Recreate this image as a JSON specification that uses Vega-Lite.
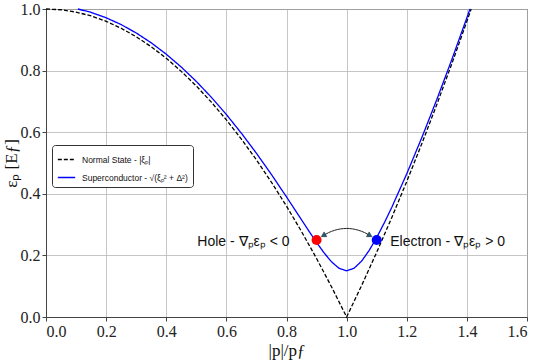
{
  "$schema": "https://vega.github.io/schema/vega-lite/v6.json",
  "width": 481,
  "height": 308,
  "autosize": "none",
  "padding": {"left": 46, "top": 9, "right": 13, "bottom": 43},
  "background": "white",
  "config": {
    "view": {"stroke": "#444", "strokeWidth": 1},
    "axis": {
      "labelFont": "Liberation Serif",
      "labelFontSize": 16,
      "labelColor": "#222",
      "titleFont": "Liberation Serif",
      "titleFontSize": 17,
      "titleFontWeight": "normal",
      "titleColor": "#111",
      "gridColor": "#b8b8b8",
      "gridWidth": 0.8,
      "domainColor": "#444",
      "tickColor": "#444"
    }
  },
  "datasets": {
    "curves": [
      {"x": 0.0, "y": 1.0, "s": "Normal State - |ξₚ|"},
      {"x": 0.05, "y": 0.9975, "s": "Normal State - |ξₚ|"},
      {"x": 0.1, "y": 0.99, "s": "Normal State - |ξₚ|"},
      {"x": 0.15, "y": 0.9775, "s": "Normal State - |ξₚ|"},
      {"x": 0.2, "y": 0.96, "s": "Normal State - |ξₚ|"},
      {"x": 0.25, "y": 0.9375, "s": "Normal State - |ξₚ|"},
      {"x": 0.3, "y": 0.91, "s": "Normal State - |ξₚ|"},
      {"x": 0.35, "y": 0.8775, "s": "Normal State - |ξₚ|"},
      {"x": 0.4, "y": 0.84, "s": "Normal State - |ξₚ|"},
      {"x": 0.45, "y": 0.7975, "s": "Normal State - |ξₚ|"},
      {"x": 0.5, "y": 0.75, "s": "Normal State - |ξₚ|"},
      {"x": 0.55, "y": 0.6975, "s": "Normal State - |ξₚ|"},
      {"x": 0.6, "y": 0.64, "s": "Normal State - |ξₚ|"},
      {"x": 0.65, "y": 0.5775, "s": "Normal State - |ξₚ|"},
      {"x": 0.7, "y": 0.51, "s": "Normal State - |ξₚ|"},
      {"x": 0.75, "y": 0.4375, "s": "Normal State - |ξₚ|"},
      {"x": 0.8, "y": 0.36, "s": "Normal State - |ξₚ|"},
      {"x": 0.85, "y": 0.2775, "s": "Normal State - |ξₚ|"},
      {"x": 0.9, "y": 0.19, "s": "Normal State - |ξₚ|"},
      {"x": 0.95, "y": 0.0975, "s": "Normal State - |ξₚ|"},
      {"x": 1.0, "y": 0.0, "s": "Normal State - |ξₚ|"},
      {"x": 1.05, "y": 0.1025, "s": "Normal State - |ξₚ|"},
      {"x": 1.1, "y": 0.21, "s": "Normal State - |ξₚ|"},
      {"x": 1.15, "y": 0.3225, "s": "Normal State - |ξₚ|"},
      {"x": 1.2, "y": 0.44, "s": "Normal State - |ξₚ|"},
      {"x": 1.25, "y": 0.5625, "s": "Normal State - |ξₚ|"},
      {"x": 1.3, "y": 0.69, "s": "Normal State - |ξₚ|"},
      {"x": 1.35, "y": 0.8225, "s": "Normal State - |ξₚ|"},
      {"x": 1.4, "y": 0.96, "s": "Normal State - |ξₚ|"},
      {"x": 1.4142, "y": 1.0, "s": "Normal State - |ξₚ|"},
      {"x": 0.106, "y": 1.0, "s": "Superconductor - √(ξₚ² + Δ²)"},
      {"x": 0.15, "y": 0.98894, "s": "Superconductor - √(ξₚ² + Δ²)"},
      {"x": 0.2, "y": 0.97165, "s": "Superconductor - √(ξₚ² + Δ²)"},
      {"x": 0.25, "y": 0.94943, "s": "Superconductor - √(ξₚ² + Δ²)"},
      {"x": 0.3, "y": 0.92228, "s": "Superconductor - √(ξₚ² + Δ²)"},
      {"x": 0.35, "y": 0.89023, "s": "Superconductor - √(ξₚ² + Δ²)"},
      {"x": 0.4, "y": 0.85329, "s": "Superconductor - √(ξₚ² + Δ²)"},
      {"x": 0.45, "y": 0.81149, "s": "Superconductor - √(ξₚ² + Δ²)"},
      {"x": 0.5, "y": 0.76485, "s": "Superconductor - √(ξₚ² + Δ²)"},
      {"x": 0.55, "y": 0.71345, "s": "Superconductor - √(ξₚ² + Δ²)"},
      {"x": 0.6, "y": 0.65735, "s": "Superconductor - √(ξₚ² + Δ²)"},
      {"x": 0.65, "y": 0.59667, "s": "Superconductor - √(ξₚ² + Δ²)"},
      {"x": 0.7, "y": 0.5316, "s": "Superconductor - √(ξₚ² + Δ²)"},
      {"x": 0.75, "y": 0.4625, "s": "Superconductor - √(ξₚ² + Δ²)"},
      {"x": 0.8, "y": 0.39, "s": "Superconductor - √(ξₚ² + Δ²)"},
      {"x": 0.85, "y": 0.31545, "s": "Superconductor - √(ξₚ² + Δ²)"},
      {"x": 0.875, "y": 0.27827, "s": "Superconductor - √(ξₚ² + Δ²)"},
      {"x": 0.9, "y": 0.24207, "s": "Superconductor - √(ξₚ² + Δ²)"},
      {"x": 0.925, "y": 0.20819, "s": "Superconductor - √(ξₚ² + Δ²)"},
      {"x": 0.95, "y": 0.1789, "s": "Superconductor - √(ξₚ² + Δ²)"},
      {"x": 0.975, "y": 0.15792, "s": "Superconductor - √(ξₚ² + Δ²)"},
      {"x": 1.0, "y": 0.15, "s": "Superconductor - √(ξₚ² + Δ²)"},
      {"x": 1.025, "y": 0.15831, "s": "Superconductor - √(ξₚ² + Δ²)"},
      {"x": 1.05, "y": 0.18168, "s": "Superconductor - √(ξₚ² + Δ²)"},
      {"x": 1.075, "y": 0.21615, "s": "Superconductor - √(ξₚ² + Δ²)"},
      {"x": 1.1, "y": 0.25807, "s": "Superconductor - √(ξₚ² + Δ²)"},
      {"x": 1.125, "y": 0.30505, "s": "Superconductor - √(ξₚ² + Δ²)"},
      {"x": 1.15, "y": 0.35568, "s": "Superconductor - √(ξₚ² + Δ²)"},
      {"x": 1.2, "y": 0.46487, "s": "Superconductor - √(ξₚ² + Δ²)"},
      {"x": 1.25, "y": 0.58216, "s": "Superconductor - √(ξₚ² + Δ²)"},
      {"x": 1.3, "y": 0.70612, "s": "Superconductor - √(ξₚ² + Δ²)"},
      {"x": 1.35, "y": 0.83607, "s": "Superconductor - √(ξₚ² + Δ²)"},
      {"x": 1.4, "y": 0.97165, "s": "Superconductor - √(ξₚ² + Δ²)"},
      {"x": 1.4102, "y": 1.0, "s": "Superconductor - √(ξₚ² + Δ²)"}
    ],
    "arc": [
      {"x": 0.925, "y": 0.266},
      {"x": 0.94, "y": 0.274},
      {"x": 0.96, "y": 0.2815},
      {"x": 0.98, "y": 0.286},
      {"x": 1.0, "y": 0.2875},
      {"x": 1.02, "y": 0.286},
      {"x": 1.04, "y": 0.2815},
      {"x": 1.06, "y": 0.274},
      {"x": 1.075, "y": 0.266}
    ],
    "heads": [
      {"x": 0.925, "y": 0.266, "a": 240},
      {"x": 1.075, "y": 0.266, "a": 120}
    ],
    "dots": [
      {"x": 0.9, "y": 0.25, "c": "hole"},
      {"x": 1.1, "y": 0.25, "c": "electron"}
    ],
    "holeLabel": [
      {"x": 0.81, "y": 0.243, "t": "Hole - ∇ₚεₚ < 0"}
    ],
    "electronLabel": [
      {"x": 1.145, "y": 0.243, "t": "Electron - ∇ₚεₚ > 0"}
    ]
  },
  "layer": [
    {
      "data": {"name": "curves"},
      "mark": {"type": "line", "strokeWidth": 1.3},
      "encoding": {
        "x": {
          "field": "x", "type": "quantitative",
          "scale": {"domain": [0, 1.6], "nice": false},
          "axis": {"values": [0, 0.2, 0.4, 0.6, 0.8, 1.0, 1.2, 1.4, 1.6], "format": ".1f", "title": "|p|/pƒ", "titlePadding": 3, "tickSize": 4, "labelPadding": 2}
        },
        "y": {
          "field": "y", "type": "quantitative",
          "scale": {"domain": [0, 1], "nice": false},
          "axis": {
            "values": [0, 0.1, 0.2, 0.3, 0.4, 0.5, 0.6, 0.7, 0.8, 0.9, 1.0],
            "labelExpr": "round(datum.value * 10) % 2 == 0 ? format(datum.value, '.1f') : ''",
            "tickSize": {"condition": {"test": "round(datum.value * 10) % 2 == 0", "value": 4}, "value": 2},
            "title": "εₚ [Eƒ]", "titlePadding": 0, "labelPadding": 2
          }
        },
        "color": {
          "field": "s", "type": "nominal",
          "scale": {"domain": ["Normal State - |ξₚ|", "Superconductor - √(ξₚ² + Δ²)"], "range": ["#000000", "#0000ff"]},
          "legend": {
            "title": null, "orient": "none", "legendX": 6, "legendY": 136,
            "labelFont": "Liberation Sans", "labelFontSize": 8.5, "labelColor": "#111",
            "symbolType": "stroke", "symbolSize": 300, "symbolStrokeWidth": 1.3,
            "strokeColor": "#333", "fillColor": "white", "cornerRadius": 3, "padding": 5, "rowPadding": 4, "labelOffset": 6
          }
        },
        "strokeDash": {
          "field": "s", "type": "nominal",
          "scale": {"domain": ["Normal State - |ξₚ|", "Superconductor - √(ξₚ² + Δ²)"], "range": [[4, 2], [1, 0]]},
          "legend": null
        }
      }
    },
    {
      "data": {"name": "arc"},
      "mark": {"type": "line", "color": "#222", "strokeWidth": 1, "interpolate": "monotone"},
      "encoding": {
        "x": {"field": "x", "type": "quantitative"},
        "y": {"field": "y", "type": "quantitative"}
      }
    },
    {
      "data": {"name": "heads"},
      "mark": {"type": "point", "shape": "triangle", "filled": true, "size": 30, "color": "#1f5f7f", "opacity": 1, "stroke": "#222", "strokeWidth": 0.5},
      "encoding": {
        "x": {"field": "x", "type": "quantitative"},
        "y": {"field": "y", "type": "quantitative"},
        "angle": {"field": "a", "type": "quantitative", "scale": null}
      }
    },
    {
      "data": {"name": "dots"},
      "mark": {"type": "point", "shape": "circle", "filled": true, "size": 100, "opacity": 1},
      "encoding": {
        "x": {"field": "x", "type": "quantitative"},
        "y": {"field": "y", "type": "quantitative"},
        "fill": {"field": "c", "type": "nominal", "scale": {"domain": ["hole", "electron"], "range": ["#ff0000", "#0000ff"]}, "legend": null}
      }
    },
    {
      "data": {"name": "holeLabel"},
      "mark": {"type": "text", "font": "Liberation Sans", "fontSize": 14, "color": "#111", "baseline": "middle", "align": "right"},
      "encoding": {
        "x": {"field": "x", "type": "quantitative"},
        "y": {"field": "y", "type": "quantitative"},
        "text": {"field": "t"}
      }
    },
    {
      "data": {"name": "electronLabel"},
      "mark": {"type": "text", "font": "Liberation Sans", "fontSize": 14, "color": "#111", "baseline": "middle", "align": "left"},
      "encoding": {
        "x": {"field": "x", "type": "quantitative"},
        "y": {"field": "y", "type": "quantitative"},
        "text": {"field": "t"}
      }
    }
  ]
}
